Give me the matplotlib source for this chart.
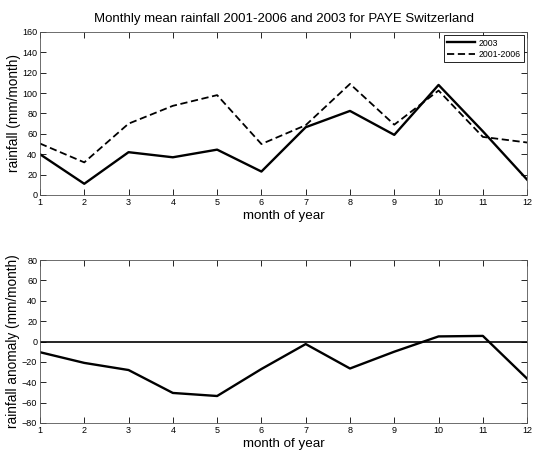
import matplotlib
matplotlib.use("Agg")
import matplotlib.pyplot as plt

months = list(range(1, 13))
rain_2003 = [40, 11, 42, 37, 44.5, 23, 66.5, 82.5, 59, 108, 62.5, 15]
rain_mean = [50.5, 32, 70, 87.5, 98, 50, 68.5, 109, 69, 102.5, 57, 51.5]
anomaly = [-10.5, -21, -28, -50.5, -53.5, -27, -2.5, -26.5, -10, 5, 5.5, -36.5]

plt.rcParams['font.family'] = ['Liberation Sans', 'DejaVu Sans']

fig = plt.figure(figsize=(5.33, 4.5), dpi=100)
ax1 = fig.add_axes([0.075, 0.5667, 0.914, 0.3623])
ax2 = fig.add_axes([0.075, 0.06, 0.914, 0.3622])

ax1.plot(months, rain_2003, color='black', lw=1.7, label='2003')
ax1.plot(months, rain_mean, color='black', lw=1.3, ls=(0, (4, 2)), label='2001-2006')
ax1.set_xlim(1, 12)
ax1.set_ylim(0, 160)
ax1.set_yticks(range(0, 161, 20))
ax1.set_xticks(months)
ax1.set_title('Monthly mean rainfall 2001-2006 and 2003 for PAYE Switzerland', fontsize=9.5, pad=7)
ax1.set_xlabel('month of year', fontsize=9.6, labelpad=2)
ax1.set_ylabel('rainfall (mm/month)', fontsize=9.8, labelpad=1)
leg = ax1.legend(loc='upper right', fontsize=6.3, frameon=True, fancybox=False,
                 edgecolor='black', framealpha=1, handlelength=3.2, borderpad=0.35,
                 labelspacing=0.3, handletextpad=0.4, borderaxespad=0.4)
leg.get_frame().set_linewidth(0.6)

ax2.plot(months, anomaly, color='black', lw=1.7)
ax2.axhline(0, color='black', lw=1.2)
ax2.set_xlim(1, 12)
ax2.set_ylim(-80, 80)
ax2.set_yticks(range(-80, 81, 20))
ax2.set_xticks(months)
ax2.set_xlabel('month of year', fontsize=9.6, labelpad=2)
ax2.set_ylabel('rainfall anomaly (mm/month)', fontsize=9.8, labelpad=1)

for ax in (ax1, ax2):
    ax.tick_params(direction='in', top=True, right=True, labelsize=6.5, length=4, width=0.6, pad=2)
    for s in ax.spines.values():
        s.set_linewidth(0.6)
        s.set_color('#555555')

fig.savefig('out.png', dpi=100)
